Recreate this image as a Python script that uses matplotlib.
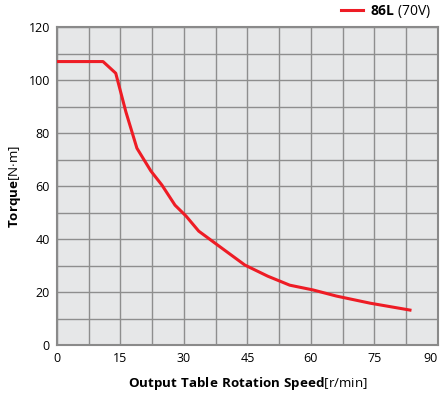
import numpy as np
import matplotlib.pyplot as plt

plt.rcParams['font.family'] = ['Open Sans', 'DejaVu Sans']
plt.rcParams['mathtext.fontset'] = 'custom'
plt.rcParams['mathtext.rm'] = 'Open Sans'
plt.rcParams['mathtext.bf'] = 'Open Sans:bold'

# speed [r/min] vs torque [N.m]
speed = [0, 10.9, 13.9, 16.3, 18.9, 22.2, 24.8, 27.9, 30.5, 33.5, 38.0,
         44.4, 49.8, 55.0, 60.5, 66.0, 74.0, 83.4]
torque = [107, 107, 102.6, 88, 74.3, 65.7, 60.4, 52.8, 48.7, 43.0, 37.7,
          30.2, 26.0, 22.6, 20.8, 18.5, 15.8, 13.2]
xticks = [0, 15, 30, 45, 60, 75, 90]
yticks = [0, 20, 40, 60, 80, 100, 120]

fig = plt.figure(figsize=(4.41, 3.93), dpi=100)
ax = fig.add_axes([0.129, 0.122, 0.864, 0.809])
ax.set_facecolor('#e6e7e8')

ax.plot(speed, torque, color='#ee1c25', lw=2.2, label=r'$\bf{86L}$ (70V)', zorder=3)

ax.set_xlim(0, 90)
ax.set_ylim(0, 120)
ax.set_xticks(xticks)
ax.set_yticks(yticks)
ax.set_xticks(np.arange(0, 91, 7.5), minor=True)
ax.set_yticks(np.arange(0, 121, 10), minor=True)
ax.grid(which='both', color='#8e8e8e', lw=1.0)
ax.set_axisbelow(True)
ax.tick_params(which='both', length=0, labelsize=9, pad=5)
ax.get_xticklabels()[-1].set_horizontalalignment('right')
for s in ax.spines.values():
    s.set_color('#8a8a8a')
    s.set_linewidth(1.5)

ax.set_xlabel(r'$\bf{Output\ Table\ Rotation\ Speed}$[r/min]', fontsize=9.6, labelpad=7)
ax.set_ylabel(r'$\bf{Torque}$[N$\cdot$m]', fontsize=9.6, labelpad=4)

ax.legend(loc='lower right', bbox_to_anchor=(1.0, 1.0), frameon=False,
          borderaxespad=0.1, handlelength=1.6, handletextpad=0.5, fontsize=10)

fig.savefig('out.png', dpi=100)
